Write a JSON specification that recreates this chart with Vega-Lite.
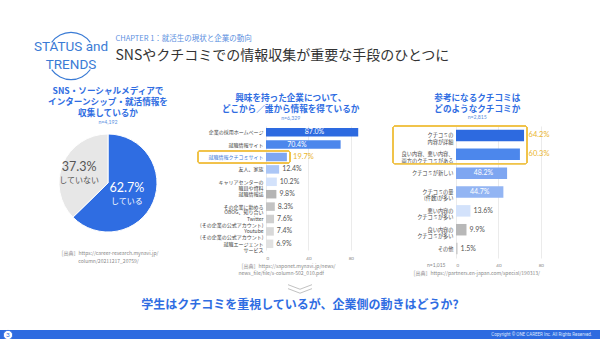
{
"$schema": "https://vega.github.io/schema/vega-lite/v6.json",
"background": "#ffffff",
"padding": {"left": 0, "top": 30, "right": 0, "bottom": 0},
"spacing": 0,
"config": {
  "view": {"stroke": null},
  "font": "Noto Sans CJK JP",
  "title": {"font": "Noto Sans CJK JP", "fontSize": 8.6, "lineHeight": 11, "fontWeight": "bold", "color": "#2f6de2", "subtitleFont": "Lato", "subtitleFontSize": 5.2, "subtitleColor": "#5b8fe0", "subtitlePadding": 2, "frame": "bounds", "anchor": "middle"},
  "axis": {"labelFont": "Noto Sans CJK JP", "titleFont": "Noto Sans CJK JP"}
},
"vconcat": [
  {"hconcat": [
    {"width": 45, "height": 52, "data": {"values": []}, "mark": "text", "encoding": {}},
    {"width": 52, "height": 52, "layer": [
      {"data": {"values": [{"logo": "ring"}]}, "mark": {"type": "arc", "radius": 24.2, "radius2": 23, "color": "#3a7bd5"}, "encoding": {"theta": {"value": -0.96}, "theta2": {"value": 0.96}}},
      {"data": {"values": [{"logo": "ring"}]}, "mark": {"type": "arc", "radius": 24.2, "radius2": 23, "color": "#3a7bd5"}, "encoding": {"theta": {"value": 2.18}, "theta2": {"value": 4.1}}},
      {"data": {"values": [{"line": "s", "text": "STATUS and"}, {"line": "t", "text": "TRENDS"}]},
       "mark": {"type": "text", "font": "Roboto", "fontSize": 13.5, "color": "#3a7bd5", "align": "center", "baseline": "middle"},
       "encoding": {"y": {"field": "line", "type": "nominal", "scale": {"type": "point", "domain": ["s", "t"], "padding": 1.125}, "axis": null}, "text": {"field": "text"}}}
    ]},
    {"width": 18, "height": 52, "data": {"values": []}, "mark": "text", "encoding": {}},
    {"width": 1, "height": 52,
     "encoding": {"y": {"field": "line", "type": "nominal", "scale": {"type": "point", "domain": ["c", "t", "z"], "padding": 0.5}, "axis": null}},
     "layer": [
      {"data": {"values": [{"line": "c", "text": "CHAPTER 1：就活生の現状と企業の動向"}]}, "mark": {"type": "text", "align": "left", "baseline": "middle", "fontSize": 7.5, "color": "#5b8fe0"}, "encoding": {"text": {"field": "text"}}},
      {"data": {"values": [{"line": "t", "text": "SNSやクチコミでの情報収集が重要な手段のひとつに"}]}, "mark": {"type": "text", "align": "left", "baseline": "middle", "fontSize": 14, "color": "#333333"}, "encoding": {"text": {"field": "text"}}}
    ]}
  ], "spacing": 0, "bounds": "flush"},
  {"width": 1, "height": 5, "data": {"values": []}, "mark": "text", "encoding": {}},
  {"hconcat": [
    {"width": 216, "height": 114,
     "title": {"text": ["SNS・ソーシャルメディアで", "インターンシップ・就活情報を", "収集しているか"], "subtitle": "n=4,192", "offset": 1},
     "data": {"values": [{"k": "している", "v": 62.7, "pct": "62.7%"}, {"k": "していない", "v": 37.3, "pct": "37.3%"}]},
     "layer": [
      {"mark": {"type": "arc", "radius": 49, "stroke": "#ffffff", "strokeWidth": 1},
       "encoding": {"theta": {"field": "v", "type": "quantitative", "stack": true}, "order": {"field": "v", "type": "quantitative", "sort": "descending"},
         "color": {"field": "k", "type": "nominal", "scale": {"domain": ["している", "していない"], "range": ["#2f6de2", "#e7e7e7"]}, "legend": null}}},
      {"mark": {"type": "text", "radius": 26, "baseline": "bottom", "dx": -5, "dy": 1.5, "fontSize": 12.5, "font": "Lato"},
       "encoding": {"theta": {"field": "v", "type": "quantitative", "stack": true}, "order": {"field": "v", "type": "quantitative", "sort": "descending"},
         "text": {"field": "pct"}, "color": {"condition": {"test": "datum.k == 'している'", "value": "#ffffff"}, "value": "#555555"}}},
      {"mark": {"type": "text", "radius": 26, "baseline": "top", "dx": -5, "dy": 4.5, "fontSize": 8},
       "encoding": {"theta": {"field": "v", "type": "quantitative", "stack": true}, "order": {"field": "v", "type": "quantitative", "sort": "descending"},
         "text": {"field": "k"}, "color": {"condition": {"test": "datum.k == 'している'", "value": "#ffffff"}, "value": "#555555"}}},
      {"mark": {"type": "text"},
       "encoding": {"x": {"datum": 0, "type": "quantitative", "axis": {"labels": false, "ticks": false, "domain": false, "grid": false, "title": ["［出典］https://career-research.mynavi.jp/", "column/20211217_20759/"], "titleFontSize": 5, "titleFontWeight": "normal", "titleColor": "#888888", "titlePadding": 10, "titleLineHeight": 8}}, "text": {"value": ""}}}
     ]},
    {"width": 50, "height": 1, "data": {"values": []}, "mark": "text", "encoding": {}},
    {"width": 106, "height": 124,
     "title": {"text": ["興味を持った企業について、", "どこから／誰から情報を得ているか"], "subtitle": "n=6,329", "offset": 5, "dx": 6},
     "data": {"values": [
       {"item": "企業の採用ホームページ", "value": 87.0, "label": "87.0%"},
       {"item": "就職情報サイト", "value": 70.4, "label": "70.4%"},
       {"item": "就職情報クチコミサイト", "value": 19.7, "label": "19.7%"},
       {"item": "友人、家族", "value": 12.4, "label": "12.4%"},
       {"item": "キャリアセンターの|職員や資料", "value": 10.2, "label": "10.2%"},
       {"item": "就職情報誌", "value": 9.8, "label": "9.8%"},
       {"item": "その企業に勤める|OBOG、知り合い", "value": 8.3, "label": "8.3%"},
       {"item": "Twitter|(その企業の公式アカウント)", "value": 7.6, "label": "7.6%"},
       {"item": "Youtube|(その企業の公式アカウント)", "value": 7.4, "label": "7.4%"},
       {"item": "就職エージェント|サービス", "value": 6.9, "label": "6.9%"}
     ]},
     "encoding": {"y": {"field": "item", "type": "nominal",
       "scale": {"domain": ["企業の採用ホームページ", "就職情報サイト", "就職情報クチコミサイト", "友人、家族", "キャリアセンターの|職員や資料", "就職情報誌", "その企業に勤める|OBOG、知り合い", "Twitter|(その企業の公式アカウント)", "Youtube|(その企業の公式アカウント)", "就職エージェント|サービス"], "paddingInner": 0, "paddingOuter": 0},
       "axis": {"title": null, "ticks": false, "domain": false, "labelFontSize": 5, "labelPadding": 3, "labelLineHeight": 5.8, "labelLimit": 200, "labelExpr": "split(datum.label, '|')",
         "labelColor": {"condition": {"test": "datum.value == '就職情報クチコミサイト'", "value": "#3a78d8"}, "value": "#444444"}}}},
     "layer": [
      {"mark": {"type": "bar", "height": 8.5},
       "encoding": {"x": {"field": "value", "type": "quantitative", "scale": {"domain": [0, 100], "nice": false},
          "axis": {"values": [0, 20, 40, 60, 80, 100], "labelExpr": "datum.value == 100 ? '100(%)' : datum.label", "labelFontSize": 4.5, "labelColor": "#888888", "labelFont": "Lato", "grid": true, "gridColor": "#e3e3e3", "gridWidth": 0.7, "domain": false, "ticks": false, "labelPadding": 5,
            "title": ["［出典］https://saponet.mynavi.jp/news/", "　　　　news_file/file/s-column-502_010.pdf"], "titleFontSize": 5, "titleFontWeight": "normal", "titleColor": "#888888", "titleAlign": "left", "titleAnchor": "start", "titleX": -28, "titlePadding": 4, "titleLineHeight": 7}},
         "color": {"field": "item", "type": "nominal", "legend": null,
           "scale": {"domain": ["企業の採用ホームページ", "就職情報サイト", "就職情報クチコミサイト", "友人、家族", "キャリアセンターの|職員や資料", "就職情報誌", "その企業に勤める|OBOG、知り合い", "Twitter|(その企業の公式アカウント)", "Youtube|(その企業の公式アカウント)", "就職エージェント|サービス"],
             "range": ["#2d6ae0", "#4c87ec", "#7ea6f1", "#abc6f6", "#d3e2fb", "#b4b4b4", "#c3c3c3", "#cfcfcf", "#d8d8d8", "#e1e1e1"]}}}},
      {"mark": {"type": "rect", "fill": "transparent", "stroke": "#f0c34a", "strokeWidth": 1, "cornerRadius": 2},
       "encoding": {"x": {"datum": -64.2, "type": "quantitative"}, "x2": {"datum": 22.6}, "y": {"datum": "就職情報クチコミサイト", "type": "nominal"}}},
      {"transform": [{"filter": "datum.value > 50"}],
       "mark": {"type": "text", "align": "right", "baseline": "middle", "dx": -34, "color": "#ffffff", "fontSize": 7, "font": "Lato"},
       "encoding": {"x": {"field": "value", "type": "quantitative"}, "text": {"field": "label"}}},
      {"transform": [{"filter": "datum.value < 50 && datum.item != '就職情報クチコミサイト'"}],
       "mark": {"type": "text", "align": "left", "baseline": "middle", "dx": 3, "color": "#555555", "fontSize": 7, "font": "Lato"},
       "encoding": {"x": {"field": "value", "type": "quantitative"}, "text": {"field": "label"}}},
      {"transform": [{"filter": "datum.item == '就職情報クチコミサイト'"}],
       "mark": {"type": "text", "align": "left", "baseline": "middle", "color": "#eab52d", "fontSize": 7.5, "font": "Lato"},
       "encoding": {"x": {"datum": 25.5, "type": "quantitative"}, "text": {"field": "label"}}}
     ]},
    {"width": 84, "height": 1, "data": {"values": []}, "mark": "text", "encoding": {}},
    {"width": 106, "height": 132,
     "title": {"text": ["参考になるクチコミは", "どのようなクチコミか"], "subtitle": "n=2,815", "offset": 5},
     "data": {"values": [
       {"item": "クチコミの|内容が詳細", "value": 64.2, "label": "64.2%"},
       {"item": "良い内容、悪い内容、|両方のクチコミがある", "value": 60.3, "label": "60.3%"},
       {"item": "クチコミが新しい", "value": 48.2, "label": "48.2%"},
       {"item": "クチコミの量|(件数)が多い", "value": 44.7, "label": "44.7%"},
       {"item": "悪い内容の|クチコミが多い", "value": 13.6, "label": "13.6%"},
       {"item": "良い内容の|クチコミが多い", "value": 9.9, "label": "9.9%"},
       {"item": "その他", "value": 1.5, "label": "1.5%"}
     ]},
     "encoding": {"y": {"field": "item", "type": "nominal",
       "scale": {"domain": ["クチコミの|内容が詳細", "良い内容、悪い内容、|両方のクチコミがある", "クチコミが新しい", "クチコミの量|(件数)が多い", "悪い内容の|クチコミが多い", "良い内容の|クチコミが多い", "その他"], "paddingInner": 0, "paddingOuter": 0},
       "axis": {"title": "n=1,015", "titleAngle": 0, "titleAlign": "right", "titleBaseline": "middle", "titleX": -11, "titleY": 138, "titleFontSize": 5, "titleColor": "#888888", "titleFontWeight": "normal", "titleFont": "Lato",
         "ticks": false, "domain": false, "labelFontSize": 5.2, "labelPadding": 3, "labelLineHeight": 6.3, "labelLimit": 200, "labelExpr": "split(datum.label, '|')", "labelColor": "#444444"}}},
     "layer": [
      {"mark": {"type": "bar", "height": 11.5},
       "encoding": {"x": {"field": "value", "type": "quantitative", "scale": {"domain": [0, 100], "nice": false},
          "axis": {"values": [0, 20, 40, 60, 80, 100], "labelExpr": "datum.value == 100 ? '100(%)' : datum.label", "labelFontSize": 4.5, "labelColor": "#888888", "labelFont": "Lato", "grid": true, "gridColor": "#e3e3e3", "gridWidth": 0.7, "domain": false, "ticks": false, "labelPadding": 4,
            "title": "［出典］https://partners.en-japan.com/special/190313/", "titleFontSize": 5, "titleFontWeight": "normal", "titleColor": "#888888", "titleAlign": "left", "titleAnchor": "start", "titleX": -46, "titlePadding": 4}},
         "color": {"field": "item", "type": "nominal", "legend": null,
           "scale": {"domain": ["クチコミの|内容が詳細", "良い内容、悪い内容、|両方のクチコミがある", "クチコミが新しい", "クチコミの量|(件数)が多い", "悪い内容の|クチコミが多い", "良い内容の|クチコミが多い", "その他"],
             "range": ["#2d6ae0", "#4c87ec", "#7ea6f1", "#93b5f3", "#d3e2fb", "#b8b8b8", "#cdcdcd"]}}}},
      {"mark": {"type": "rect", "fill": "transparent", "stroke": "#f0c34a", "strokeWidth": 1, "cornerRadius": 2},
       "encoding": {"x": {"datum": -59.4, "type": "quantitative"}, "x2": {"datum": 67}, "y": {"datum": "クチコミの|内容が詳細", "type": "nominal", "bandPosition": 0}, "y2": {"datum": "良い内容、悪い内容、|両方のクチコミがある", "bandPosition": 1}}},
      {"transform": [{"filter": "datum.value > 40 && datum.value < 55"}],
       "mark": {"type": "text", "align": "right", "baseline": "middle", "dx": -14, "color": "#ffffff", "fontSize": 7, "font": "Lato"},
       "encoding": {"x": {"field": "value", "type": "quantitative"}, "text": {"field": "label"}}},
      {"transform": [{"filter": "datum.value < 40"}],
       "mark": {"type": "text", "align": "left", "baseline": "middle", "dx": 3, "color": "#555555", "fontSize": 7, "font": "Lato"},
       "encoding": {"x": {"field": "value", "type": "quantitative"}, "text": {"field": "label"}}},
      {"transform": [{"filter": "datum.value > 55"}],
       "mark": {"type": "text", "align": "left", "baseline": "middle", "color": "#eab52d", "fontSize": 7.5, "font": "Lato"},
       "encoding": {"x": {"datum": 68.5, "type": "quantitative"}, "text": {"field": "label"}}}
     ]}
  ], "spacing": 0, "bounds": "flush", "resolve": {"scale": {"color": "independent"}}},
  {"width": 1, "height": 5, "data": {"values": []}, "mark": "text", "encoding": {}},
  {"width": 600, "height": 16, "data": {"values": [{"a": "arrow"}]},
   "mark": {"type": "point", "shape": "M-1,-0.36L0,0.02L1,-0.36M-1,-0.03L0,0.35L1,-0.03", "filled": false, "stroke": "#c2c2c2", "strokeWidth": 1, "size": 576, "opacity": 1},
   "encoding": {}},
  {"width": 600, "height": 16, "data": {"values": [{"msg": "学生はクチコミを重視しているが、企業側の動きはどうか?"}]},
   "mark": {"type": "text", "fontSize": 12, "fontWeight": "bold", "color": "#2f6de2", "baseline": "middle"},
   "encoding": {"text": {"field": "msg"}}},
  {"width": 1, "height": 15, "data": {"values": []}, "mark": "text", "encoding": {}},
  {"width": 600, "height": 10, "view": {"fill": "#2e6be0", "stroke": null},
   "encoding": {"x": {"field": "pos", "type": "nominal", "scale": {"type": "point", "domain": ["L", "R"], "padding": 0.0137}, "axis": null}},
   "layer": [
    {"data": {"values": [{"pos": "L"}]}, "mark": {"type": "point", "shape": "circle", "filled": true, "fill": "#ffffff", "stroke": "#2e6be0", "strokeWidth": 0.8, "size": 85, "opacity": 1}},
    {"data": {"values": [{"pos": "L", "t": "3"}]}, "mark": {"type": "text", "fontSize": 6.5, "color": "#2e6be0", "font": "Lato", "baseline": "middle"}, "encoding": {"text": {"field": "t"}}},
    {"data": {"values": [{"pos": "R", "t": "Copyright © ONE CAREER Inc. All Rights Reserved."}]}, "mark": {"type": "text", "align": "right", "baseline": "middle", "fontSize": 4.5, "color": "#dbe6ff", "font": "Roboto"}, "encoding": {"text": {"field": "t"}}}
   ]}
]
}
